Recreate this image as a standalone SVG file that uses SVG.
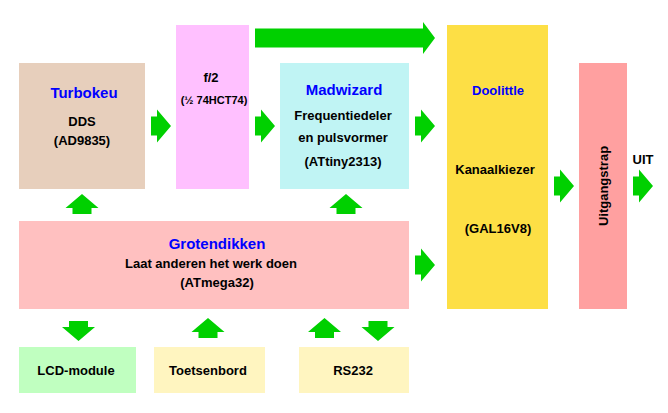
<svg xmlns="http://www.w3.org/2000/svg" xmlns:xlink="http://www.w3.org/1999/xlink" width="668" height="413" viewBox="0 0 668 413">
<style>
text{font-family:"Liberation Sans",Arial,sans-serif;font-weight:bold;font-size:13px;fill:#000;text-anchor:middle}
.t{font-size:15px;fill:#0000ff}
.s{font-size:11px}
.ar{fill:#00d000}
</style>
<defs>
<polygon id="arr" class="ar" points="0,-9.5 6,-9.5 6,-16.5 20,0 6,16.5 6,9.5 0,9.5"/>
</defs>
<rect width="668" height="413" fill="#fff"/>
<g id="turbokeu">
<rect x="19" y="63" width="126" height="126" fill="#e7cfbc"/>
<text class="t" x="84" y="98">Turbokeu</text>
<text x="82" y="126">DDS</text>
<text x="82" y="145">(AD9835)</text>
</g>
<g id="f2">
<rect x="176" y="25" width="73" height="164" fill="#ffc0ff"/>
<text x="211" y="82">f/2</text>
<text class="s" x="214" y="104">(½ 74HCT74)</text>
</g>
<g id="madwizard">
<rect x="280" y="63" width="129" height="126" fill="#c0f4f4"/>
<text class="t" x="344" y="95">Madwizard</text>
<text x="343" y="120">Frequentiedeler</text>
<text x="343" y="142">en pulsvormer</text>
<text x="343" y="166">(ATtiny2313)</text>
</g>
<g id="doolittle">
<rect x="447" y="25" width="101" height="284" fill="#fddf45"/>
<text x="498" y="95" style="fill:#0000ff">Doolittle</text>
<text x="495" y="174">Kanaalkiezer</text>
<text x="498" y="233">(GAL16V8)</text>
</g>
<g id="uitgangstrap">
<rect x="579" y="63" width="48" height="246" fill="#ffa0a0"/>
<text x="0" y="0" transform="translate(608,186) rotate(-90)">Uitgangstrap</text>
</g>
<g id="uit">
<text x="643" y="164">UIT</text>
</g>
<g id="grotendikken">
<rect x="19" y="221" width="390" height="88" fill="#ffc0c0"/>
<text class="t" x="217" y="249">Grotendikken</text>
<text x="211" y="268">Laat anderen het werk doen</text>
<text x="217" y="287">(ATmega32)</text>
</g>
<g id="lcd">
<rect x="19" y="347" width="117" height="46" fill="#c0ffc0"/>
<text x="76" y="375">LCD-module</text>
</g>
<g id="toetsenbord">
<rect x="154" y="347" width="111" height="46" fill="#fff5c0"/>
<text x="208" y="375">Toetsenbord</text>
</g>
<g id="rs232">
<rect x="299" y="347" width="110" height="46" fill="#fff5c0"/>
<text x="353" y="375">RS232</text>
</g>
<g id="connectors">
<polygon class="ar" points="255,28.5 423,28.5 423,22 435,38 423,54 423,47.5 255,47.5"/>
<use xlink:href="#arr" transform="translate(151,126)"/>
<use xlink:href="#arr" transform="translate(255,126)"/>
<use xlink:href="#arr" transform="translate(415,126)"/>
<use xlink:href="#arr" transform="translate(415,265)"/>
<use xlink:href="#arr" transform="translate(554,186)"/>
<use xlink:href="#arr" transform="translate(633,186)"/>
<use xlink:href="#arr" transform="translate(82,214) rotate(-90)"/>
<use xlink:href="#arr" transform="translate(346,214) rotate(-90)"/>
<use xlink:href="#arr" transform="translate(78.5,321) rotate(90)"/>
<use xlink:href="#arr" transform="translate(208,338) rotate(-90)"/>
<use xlink:href="#arr" transform="translate(324.5,338) rotate(-90)"/>
<use xlink:href="#arr" transform="translate(378,321) rotate(90)"/>
</g>
</svg>
